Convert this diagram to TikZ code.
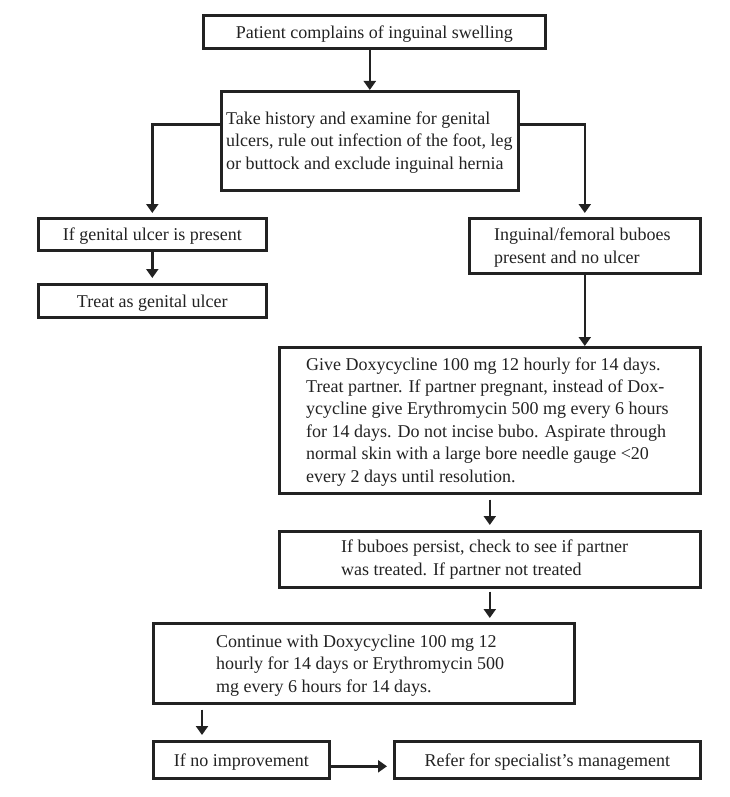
\documentclass[tikz,border=0pt]{standalone}
\usepackage{fontspec}
\setmainfont{Liberation Serif}
\usetikzlibrary{arrows.meta,calc}
\definecolor{ink}{HTML}{222222}
\tikzset{
  box/.style={draw=ink, line width=2.6pt, anchor=north west, inner sep=0pt, text=ink},
  lbl/.style={font=\fontsize{18}{22.4}\selectfont, text height=13pt, text depth=0pt, text=ink},
  para/.style={font=\fontsize{18}{22.4}\selectfont, align=left, anchor=base west, inner sep=0pt, text=ink},
  arr/.style={draw=ink, line width=2.6pt, -{Triangle[width=12pt,length=9pt]}},
}
\begin{document}
\begin{tikzpicture}[x=1pt,y=-1pt]
\useasboundingbox (0,0) rectangle (730,797);
% boxes
\node[box, minimum width=342pt, minimum height=33pt] (b1) at (202,14) {};
\node[lbl] (t1) at (b1.center) {Patient complains of inguinal swelling};
\node[box, minimum width=297pt, minimum height=99pt] (b2) at (220,90) {};
\node[para] (t2) at (226,169) {Take history and examine for genital\\ulcers, rule out infection of the foot, leg\\or buttock and exclude inguinal hernia};
\node[box, minimum width=228pt, minimum height=32pt] (b3) at (37,217) {};
\node[lbl] (t3) at (b3.center) {If genital ulcer is present};
\node[box, minimum width=228pt, minimum height=33pt] (b5) at (37,283) {};
\node[lbl] (t5) at (b5.center) {Treat as genital ulcer};
\node[box, minimum width=231pt, minimum height=55pt] (b4) at (468,217) {};
\node[para] (t4) at (494,263) {Inguinal/femoral buboes\\present and no ulcer};
\node[box, minimum width=421pt, minimum height=146pt] (b6) at (278,346) {};
\node[para] (t6) at (306,482) {Give Doxycycline 100 mg 12 hourly for 14 days.\\Treat partner. If partner pregnant, instead of Dox-\\ycycline give Erythromycin 500 mg every 6 hours\\for 14 days. Do not incise bubo. Aspirate through\\normal skin with a large bore needle gauge <20\\every 2 days until resolution.};
\node[box, minimum width=421pt, minimum height=56pt] (b7) at (278,530) {};
\node[para] (t7) at (341,575) {If buboes persist, check to see if partner\\was treated. If partner not treated};
\node[box, minimum width=421pt, minimum height=80pt] (b8) at (152,622) {};
\node[para] (t8) at (216,692) {Continue with Doxycycline 100 mg 12\\hourly for 14 days or Erythromycin 500\\mg every 6 hours for 14 days.};
\node[box, minimum width=176pt, minimum height=37pt] (b9) at (152,740) {};
\node[lbl] (t9) at (b9.center) {If no improvement};
\node[box, minimum width=306pt, minimum height=37pt] (b10) at (393,740) {};
\node[lbl] (t10) at (b10.center) {Refer for specialist’s management};
% connectors
\draw[arr] (b1.south -| b2.north) -- (b2.north);
\draw[arr, shorten >=4pt] ($(b2.west)+(0,-16.5)$) -| (b3.north);
\draw[arr, shorten >=4pt] ($(b2.east)+(0,-16.5)$) -| (b4.north);
\draw[arr, shorten >=5pt] (b3.south) -- (b5.north);
\draw[arr] (b4.south) -- (b4.south |- b6.north);
\draw[arr, shorten <=5pt, shorten >=5pt] (b6.south) -- (b7.north);
\draw[arr, shorten <=3pt, shorten >=4pt] (b7.south) -- (b7.south |- b8.north);
\coordinate (c89) at ($(b8.south west)+(50,0)$);
\draw[arr, shorten <=5pt, shorten >=5pt] (c89) -- (c89 |- b9.north);
\draw[arr, shorten >=6pt] ($(b9.east)+(0,6.5)$) -- ($(b10.west)+(0,6.5)$);
\end{tikzpicture}
\end{document}
